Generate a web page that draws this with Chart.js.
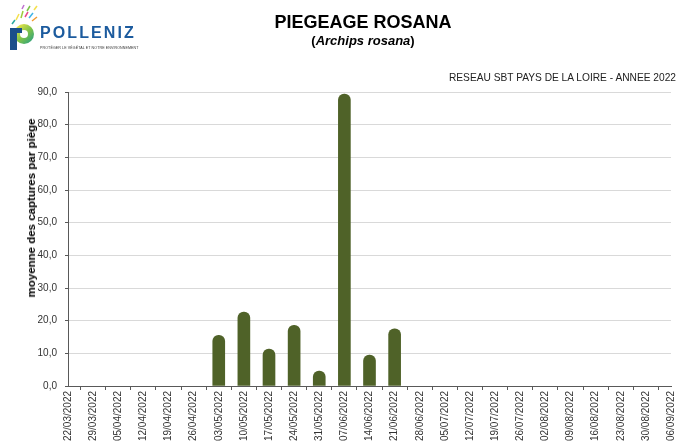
<!DOCTYPE html>
<html>
<head>
<meta charset="utf-8">
<script src="https://cdn.jsdelivr.net/npm/chart.js@4/dist/chart.umd.min.js"></script>
<style>
  body { margin: 0; background: #fff; font-family: "Liberation Sans", Arial, sans-serif; }
  #wrap { position: relative; width: 684px; height: 445px; overflow: hidden; }
  #chart { position: absolute; left: 0; top: 0; }
  .txt { position: absolute; white-space: nowrap; color: #000; }
  #title { left: 263px; width: 200px; top: 11px; text-align: center; font-size: 18px; font-weight: bold; line-height: 22px; }
  #subtitle { left: 263px; width: 200px; top: 33px; text-align: center; font-size: 13px; font-weight: bold; line-height: 16px; }
  #reseau { right: 8px; top: 71px; font-size: 10.2px; line-height: 14px; color: #222; }
  #brand { left: 40px; top: 24px; font-size: 16px; font-weight: bold; letter-spacing: 2.1px; color: #1c5b9e; line-height: 18px; }
  #tagline { left: 40px; top: 46px; font-size: 3.6px; letter-spacing: 0.1px; color: #333; line-height: 5px; }
  #ytitle { left: 31px; top: 208px; font-size: 11.5px; font-weight: bold; line-height: 12px;
            transform: translate(-50%, -50%) rotate(-90deg); }
  #logo { position: absolute; left: 4px; top: 2px; }
</style>
</head>
<body>
<div id="wrap">
  <canvas id="chart" width="684" height="445"></canvas>
  <canvas id="logo" width="34" height="50"></canvas>
  <div class="txt" id="brand">POLLENIZ</div>
  <div class="txt" id="tagline">PROTÉGER LE VÉGÉTAL ET NOTRE ENVIRONNEMENT</div>
  <div class="txt" id="title">PIEGEAGE ROSANA</div>
  <div class="txt" id="subtitle">(<i>Archips rosana</i>)</div>
  <div class="txt" id="reseau">RESEAU SBT PAYS DE LA LOIRE - ANNEE 2022</div>
  <div class="txt" id="ytitle"></div>
</div>
<script>
const weeks = [
  '22/03/2022', '29/03/2022', '05/04/2022', '12/04/2022', '19/04/2022', '26/04/2022',
  '03/05/2022', '10/05/2022', '17/05/2022', '24/05/2022', '31/05/2022', '07/06/2022',
  '14/06/2022', '21/06/2022', '28/06/2022', '05/07/2022', '12/07/2022', '19/07/2022',
  '26/07/2022', '02/08/2022', '09/08/2022', '16/08/2022', '23/08/2022', '30/08/2022',
  '06/09/2022'
];
const captures = [
  0, 0, 0, 0, 0, 0,
  15.5, 22.6, 11.3, 18.6, 4.6, 89.4,
  9.5, 17.5, 0, 0, 0, 0,
  0, 0, 0, 0, 0, 0,
  0
];
const yTitle = 'moyenne des captures par piège';

document.getElementById('ytitle').textContent = yTitle;

// small decorative logo icon
(function () {
  const c = document.getElementById('logo').getContext('2d');
  const dashes = [
    ['#f4e04d', 12, 18, 15, 12], ['#9ccc3c', 17, 16, 19, 9], ['#e84a8a', 21, 15, 24, 10],
    ['#3fb3e6', 25, 16, 29, 11], ['#f29b30', 28, 19, 33, 15], ['#7dc24b', 23, 9, 26, 4],
    ['#c070d0', 18, 7, 20, 3], ['#f4e04d', 30, 8, 33, 4], ['#2aa9a0', 8, 22, 11, 18]
  ];
  c.lineWidth = 1.5;
  dashes.forEach(d => { c.strokeStyle = d[0]; c.beginPath(); c.moveTo(d[1], d[2]); c.lineTo(d[3], d[4]); c.stroke(); });
  const g = c.createLinearGradient(12, 24, 30, 42);
  g.addColorStop(0, '#f2e64a');
  g.addColorStop(0.5, '#7cc24a');
  g.addColorStop(1, '#1a9a8c');
  c.fillStyle = g;
  c.beginPath(); c.arc(20, 32, 10, 0, Math.PI * 2); c.fill();
  c.fillStyle = '#fff';
  c.beginPath(); c.arc(20, 32, 4, 0, Math.PI * 2); c.fill();
  c.fillStyle = '#1c4f8a';
  c.fillRect(6, 26, 7, 22);
  c.fillRect(6, 26, 12, 5);
})();

new Chart(document.getElementById('chart'), {
  type: 'bar',
  data: {
    labels: weeks,
    datasets: [{
      // empty weeks are left undrawn
      data: captures.map(v => (v === 0 ? null : v)),
      backgroundColor: '#4F6228',
      barThickness: 12,
      borderSkipped: 'bottom',
      borderRadius: { topLeft: 6, topRight: 6, bottomLeft: 0, bottomRight: 0 }
    }]
  },
  options: {
    responsive: false,
    animation: false,
    layout: { padding: { top: 92, right: 12, bottom: 0, left: 0 } },
    plugins: { legend: { display: false }, tooltip: { enabled: false } },
    scales: {
      x: {
        offset: false,
        grid: { drawOnChartArea: false, tickLength: 4, tickColor: '#595959' },
        border: { color: '#595959' },
        ticks: {
          minRotation: 90, maxRotation: 90, autoSkip: false, padding: 1,
          color: '#333', font: { family: 'Liberation Sans', size: 10 }
        },
        afterFit: s => { s.height = 59; }
      },
      y: {
        min: 0, max: 90,
        grid: { color: '#d9d9d9', tickLength: 3, tickColor: '#595959' },
        border: { color: '#595959' },
        ticks: {
          stepSize: 10, padding: 8, color: '#333',
          font: { family: 'Liberation Sans', size: 10 },
          callback: v => v.toFixed(1).replace('.', ',')
        },
        afterFit: s => { s.width = 68; }
      }
    }
  }
});
</script>
</body>
</html>
